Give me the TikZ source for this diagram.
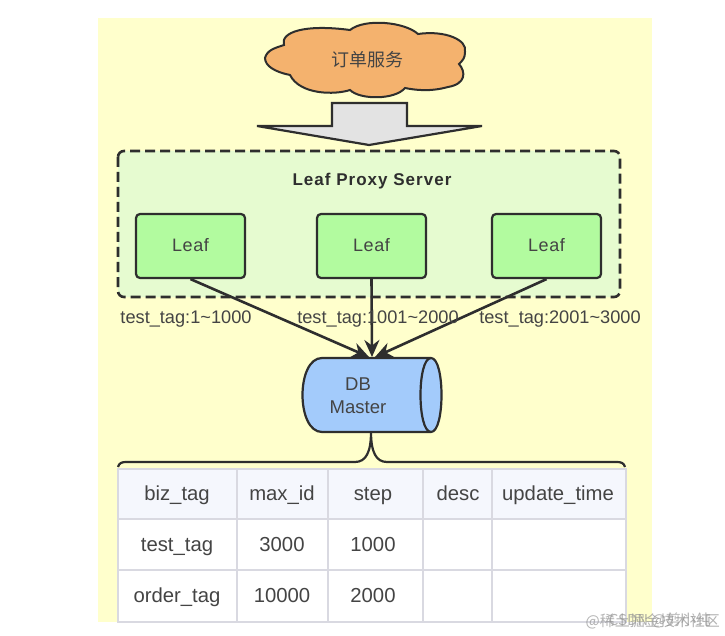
\documentclass[tikz,border=0pt]{standalone}
\usepackage{fontspec}
\setmainfont{Liberation Sans}
\newfontfamily\cjk{Noto Sans CJK SC}
\usetikzlibrary{arrows.meta}
\definecolor{bgy}{HTML}{FFFFCC}
\definecolor{ink}{HTML}{2E2E2E}
\definecolor{txt}{HTML}{444444}
\definecolor{cloudc}{HTML}{F4B26E}
\definecolor{panel}{HTML}{E6FBD0}
\definecolor{leafc}{HTML}{B2FB9F}
\definecolor{dbc}{HTML}{A3CBFB}
\definecolor{grid}{HTML}{D9D9E1}
\definecolor{headc}{HTML}{F5F7FD}
\tikzset{
  leafbox/.style={draw=ink,line width=2.2pt,fill=leafc,rounded corners=4pt,minimum width=109pt,minimum height=64pt,text=txt,font=\fontsize{18}{20}\selectfont\addfontfeature{LetterSpace=3},text height=11pt,text depth=0pt},
  conn/.style={draw=ink,line width=2.6pt,-{Stealth[length=17pt,width=15pt]}},
  lbl/.style={text=txt,font=\fontsize{18.2}{20}\selectfont,inner sep=0pt},
  cell/.style={text=txt,font=\fontsize{20.3}{22}\selectfont,inner sep=0pt,text height=14.5pt,text depth=4.3pt},
  gridline/.style={draw=grid,line width=1.2pt},
  mark text/.style={text=gray!85,font=\cjk\fontsize{15}{16}\selectfont,inner sep=0pt,opacity=.7}
}
\begin{document}
\begin{tikzpicture}[x=1pt,y=-1pt]
\useasboundingbox (0,0) rectangle (725,636);
\fill[white] (0,0) rectangle (725,636);
\fill[bgy] (98,18) rectangle (652,622);
% cloud
\draw[ink,line width=2pt,fill=cloudc] (265,58)
  .. controls (267,50) and (275,48) .. (284,45)
  .. controls (280,32) and (305,24) .. (350,30)
  .. controls (365,18) and (405,22) .. (418,34)
  .. controls (445,30) and (468,40) .. (465,52)
  .. controls (465,58) and (463,60) .. (459,64)
  .. controls (466,72) and (466,84) .. (448,87)
  .. controls (430,92) and (415,90) .. (405,88)
  .. controls (395,100) and (360,100) .. (350,90)
  .. controls (335,95) and (300,95) .. (290,75)
  .. controls (275,72) and (265,66) .. (265,58) -- cycle;
\node[text=txt,font=\cjk\fontsize{18}{20}\selectfont,inner sep=0pt] (svc) at (367,60) {订单服务};
% big arrow
\draw[ink,line width=2.2pt,fill=gray!22,line join=miter]
  (332,103) -- (407,103) -- (407,126) -- (482,126) -- (369,145) -- (257,126) -- (332,126) -- cycle;
% panel
\draw[ink,line width=2.6pt,dash pattern=on 10pt off 5pt,fill=panel,rounded corners=6pt] (118,151) rectangle (620,297);
\node[text=ink,font=\bfseries\fontsize{17}{19}\selectfont\addfontfeature{LetterSpace=6},inner sep=0pt] (title) at (372,181) {Leaf Proxy Server};
\node[leafbox] (a) at (190.5,246) {Leaf};
\node[leafbox] (b) at (371.5,246) {Leaf};
\node[leafbox] (c) at (546.5,246) {Leaf};
% db
\draw[ink,line width=2.2pt,fill=dbc] (322,358) -- (431,358)
  .. controls (445,358) and (445,432) .. (431,432) -- (322,432)
  .. controls (296,432) and (296,358) .. (322,358) -- cycle;
\draw[ink,line width=2.2pt] (431,358) .. controls (417,358) and (417,432) .. (431,432);
\node[text=txt,font=\fontsize{18.5}{23}\selectfont,align=center,inner sep=0pt] (db) at (358,396) {DB\\Master};
\coordinate (dbtop) at (372,357);
\coordinate (dbbot) at (371,432);
% connectors
\draw[conn] (a.south) -- ([xshift=-3pt]dbtop);
\draw[conn] (b.south) -- (dbtop);
\draw[conn] (c.south) -- ([xshift=3pt]dbtop);
\node[lbl] (l1) at (186,319) {test\_tag:1\textasciitilde1000};
\node[lbl] (l2) at (378,319) {test\_tag:1001\textasciitilde2000};
\node[lbl] (l3) at (560,319) {test\_tag:2001\textasciitilde3000};
% brace
\coordinate (bl) at (118,467);
\coordinate (br) at (625,467);
\draw[ink,line width=2.2pt] (bl) .. controls (119,463) and (122,462) .. (126,462) -- (355,462)
  .. controls (366,462) and (371,452) .. (dbbot)
  .. controls (371,452) and (376,462) .. (387,462) -- (617,462)
  .. controls (621,462) and (624,463) .. (br);
% table
\fill[white] (118,469) rectangle (626,622);
\fill[headc] (118,469) rectangle (626,519);
\draw[gridline] (118,469) rectangle (626,622);
\foreach \yy in {519,570} \draw[gridline] (118,\yy) -- (626,\yy);
\foreach \xx in {237,328,423,492} \draw[gridline] (\xx,469) -- (\xx,622);
\node[cell] (h1) at (177,495) {biz\_tag};
\node[cell] (h2) at (282,495) {max\_id};
\node[cell] (h3) at (373,495) {step};
\node[cell] (h4) at (458,495) {desc};
\node[cell] (h5) at (558,495) {update\_time};
\node[cell] (r1) at (177,546) {test\_tag};
\node[cell] (r2) at (282,546) {3000};
\node[cell] (r3) at (373,546) {1000};
\node[cell] (s1) at (177,597) {order\_tag};
\node[cell] (s2) at (282,597) {10000};
\node[cell] (s3) at (373,597) {2000};
% watermark
\node[mark text,anchor=east] (w1) at (720,621) {@稀土掘金技术社区};
\node[mark text,anchor=east] (w2) at (711,620) {CSDN @剪小纯};
\end{tikzpicture}
\end{document}
